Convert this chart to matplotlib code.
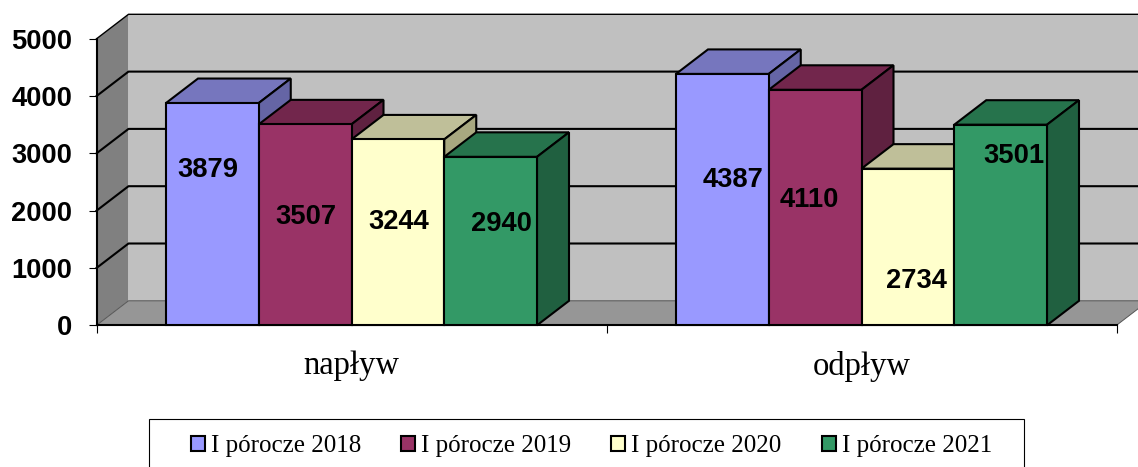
import matplotlib
matplotlib.use("Agg")
import matplotlib.pyplot as plt
from matplotlib.patches import Polygon, Patch, Rectangle

categories = ["napływ", "odpływ"]
series_names = ["I pórocze 2018", "I pórocze 2019", "I pórocze 2020", "I pórocze 2021"]
values_2018 = [3879, 4387]
values_2019 = [3507, 4110]
values_2020 = [3244, 2734]
values_2021 = [2940, 3501]
y_ticks = [0, 1000, 2000, 3000, 4000, 5000]

# styles and layout
W, H = 1138, 467
front = ["#9999FF", "#993366", "#FFFFCC", "#339966"]
top = ["#7676BE", "#72264C", "#BFBF99", "#26734C"]
side = ["#6565A5", "#5F2140", "#A8A880", "#206040"]
label_off = [[(-5, -67), (1, -93), (1, -83), (11, -67.5)],
             [(11, -106), (-6, -110.5), (9, -112.7), (13, -31.6)]]
LW = 1.5

fig = plt.figure(figsize=(W / 100, H / 100), dpi=100, facecolor="white")
ax = fig.add_axes([96.5 / W, 1 - 325.3 / H, 1020 / W, 286.5 / H])
ax.set_xlim(0, 2)
ax.set_ylim(0, 5000)
ax.patch.set_visible(False)
for s in ("top", "right"):
    ax.spines[s].set_visible(False)
for s in ("left", "bottom"):
    ax.spines[s].set_linewidth(LW)
    ax.spines[s].set_zorder(1.5)

dx = 32 / 510
dy = 24.5 / 286.5 * 5000
ymax = y_ticks[-1]


def poly(pts, fc, ec="black", lw=LW, z=1):
    ax.add_patch(Polygon(pts, closed=True, facecolor=fc, edgecolor=ec, linewidth=lw,
                         zorder=z, clip_on=False, joinstyle="miter"))


# walls and floor
poly([(dx, dy), (2 + dx, dy), (2 + dx, ymax + dy), (dx, ymax + dy)], "#C0C0C0", ec="none", lw=0)
poly([(0, 0), (dx, dy), (dx, ymax + dy), (0, ymax)], "#808080", ec="none", lw=0)
poly([(0, 0), (2, 0), (2 + dx, dy), (dx, dy)], "#969696", ec="#555555", lw=0.7)
for v in y_ticks[1:]:
    ax.plot([0, dx, 2 + dx], [v, v + dy, v + dy], color="black",
            lw=LW if v < ymax else 1.0, zorder=1.2, clip_on=False)

# bars
bw = 92.75 / 510
all_values = [values_2018, values_2019, values_2020, values_2021]
z = 2
for c in range(len(categories)):
    for i, vals in enumerate(all_values):
        x0 = c + 0.5 + (i - 2) * bw
        x1 = x0 + bw
        v = vals[c]
        poly([(x0, v), (x1, v), (x1 + dx, v + dy), (x0 + dx, v + dy)], top[i], z=z)
        poly([(x1, 0), (x1 + dx, dy), (x1 + dx, v + dy), (x1, v)], side[i], z=z)
        poly([(x0, 0), (x1, 0), (x1, v), (x0, v)], front[i], z=z + 0.1)
        z += 0.2
        ax.annotate(str(v), xy=(x0 + bw / 2, v), xytext=label_off[c][i],
                    textcoords="offset pixels", ha="center", va="center",
                    fontsize=19.7, fontweight="bold", family="Liberation Sans",
                    color="black", zorder=20, annotation_clip=False)

# axes ticks
ax.set_yticks(y_ticks)
ax.set_yticklabels([str(t) for t in y_ticks], fontsize=19.6, fontweight="bold",
                   family="Liberation Sans")
ax.tick_params(axis="y", length=5.8, width=0.8, pad=11.5)
ax.set_xticks([0, 1, 2])
ax.set_xticklabels([])
ax.tick_params(axis="x", which="major", length=5.8, width=0.8)
ax.set_xticks([0.5, 1.5], minor=True)
ax.set_xticklabels(categories, minor=True, fontsize=23.5, family="Liberation Serif")
ax.tick_params(axis="x", which="minor", length=0, pad=18.5)

# legend
fig.add_artist(Rectangle((149 / W, -0.01), 875 / W, 1 - 419 / H + 0.01, transform=fig.transFigure,
                         facecolor="white", edgecolor="black", linewidth=0.8))
handles = [Patch(facecolor=f, edgecolor="black", linewidth=LW) for f in front]
fig.legend(handles, series_names, loc="center left", bbox_to_anchor=(191 / W, 1 - 446 / H),
           ncol=4, frameon=False, borderpad=0, borderaxespad=0,
           prop={"family": "Liberation Serif", "size": 18},
           handlelength=0.56, handleheight=0.56, handletextpad=0.24, columnspacing=1.6)

fig.savefig("out.png", dpi=100)
